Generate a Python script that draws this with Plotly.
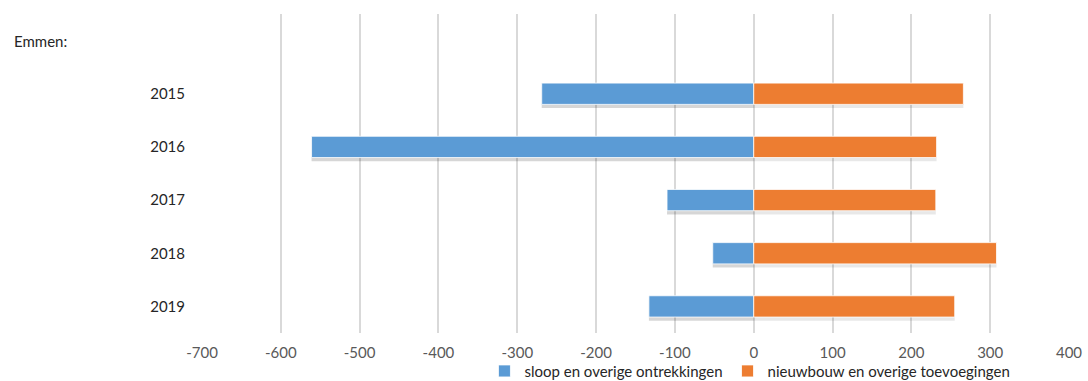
import plotly.graph_objects as go

years = ["2015", "2016", "2017", "2018", "2019"]
sloop = [-269, -561, -110, -52, -133]
nieuwbouw = [266, 232, 231, 308, 255]
x_ticks = [-700, -600, -500, -400, -300, -200, -100, 0, 100, 200, 300, 400]
title_label = "Emmen:"
name_sloop = "sloop en overige ontrekkingen"
name_nieuw = "nieuwbouw en overige toevoegingen"

BLUE = "#5B9BD5"
ORANGE = "#ED7D31"
W = 0.4

fig = go.Figure()
# soft shadows
for vals, a in ((sloop, 0.16), (nieuwbouw, 0.09)):
    fig.add_trace(go.Bar(y=years, x=vals, orientation="h", width=W, offset=-W / 2 + 0.07,
                         marker=dict(color=f"rgba(0,0,0,{a})", line=dict(width=0)),
                         showlegend=False, hoverinfo="skip"))
fig.add_trace(go.Bar(y=years, x=sloop, orientation="h", name=name_sloop, width=W, offset=-W / 2,
                     marker=dict(color=BLUE, line=dict(color="white", width=0.8))))
fig.add_trace(go.Bar(y=years, x=nieuwbouw, orientation="h", name=name_nieuw, width=W, offset=-W / 2,
                     marker=dict(color=ORANGE, line=dict(color="white", width=0.8))))

fig.update_layout(
    width=1088, height=381,
    margin=dict(l=202, r=19, t=14, b=48, autoexpand=False),
    paper_bgcolor="white", plot_bgcolor="white",
    barmode="overlay",
    font=dict(family="Lato", size=15, color="#595959"),
    showlegend=True,
    legend=dict(orientation="h", x=0.632, xanchor="center", y=-0.068, yanchor="top",
                font=dict(size=15, color="#262626"), itemwidth=30, tracegroupgap=0,
                bgcolor="rgba(0,0,0,0)"),
    annotations=[dict(text=title_label, xref="paper", yref="y", x=-0.219, y=-1,
                      xanchor="left", yanchor="middle", showarrow=False,
                      font=dict(size=15, color="#262626"))],
)
fig.update_xaxes(range=[-700, 400], tickvals=x_ticks, ticktext=[str(v) for v in x_ticks],
                 showgrid=True, gridcolor="#D9D9D9",
                 gridwidth=2, zeroline=False, showline=False, ticks="", ticklabelstandoff=9,
                 tickfont=dict(color="#595959", size=15), fixedrange=True)
fig.update_yaxes(type="category", categoryorder="array", categoryarray=years,
                 range=[4.5, -1.5], showgrid=False, zeroline=False, showline=False,
                 ticks="", ticklabelstandoff=16, tickfont=dict(color="#262626", size=15),
                 fixedrange=True)

fig.write_html("out.html")
